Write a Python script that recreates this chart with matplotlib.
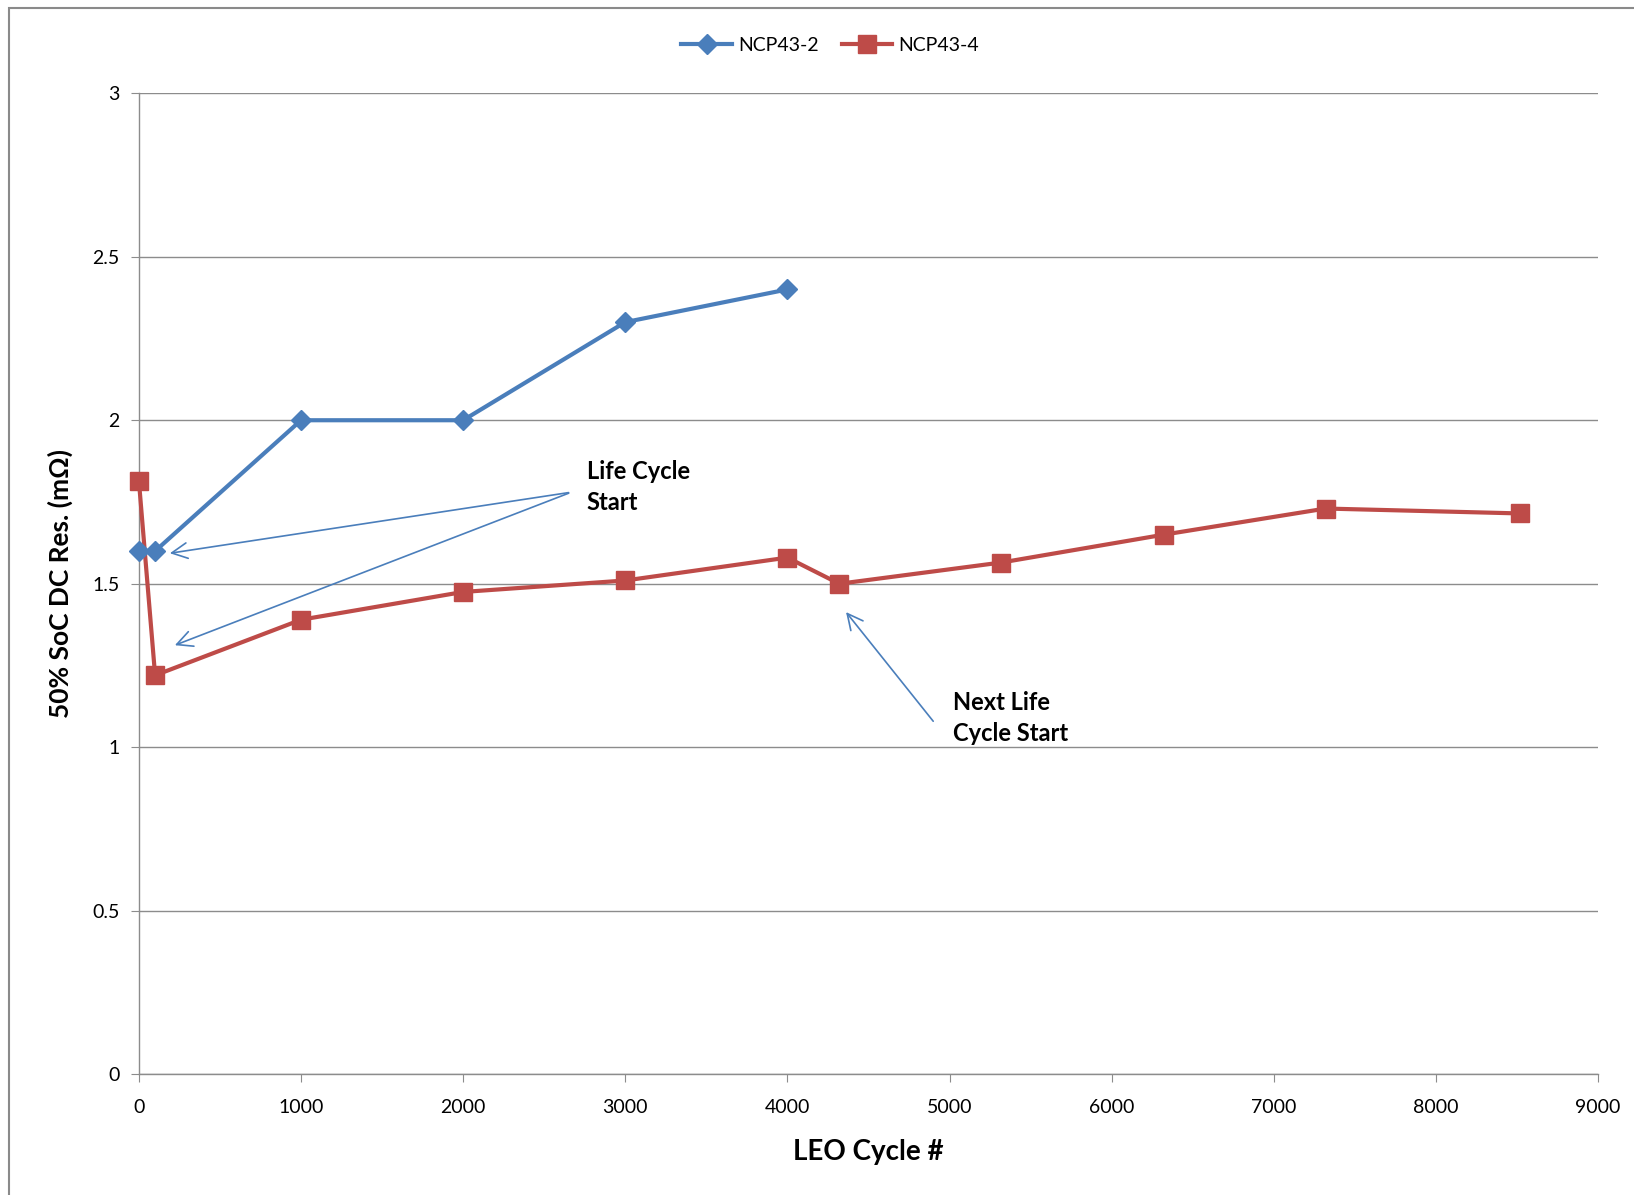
import matplotlib.pyplot as plt
from matplotlib.patches import Rectangle

plt.rcParams['font.family'] = ['Lato', 'DejaVu Sans']

# cycle number vs 50% SoC DC resistance (mOhm)
cycles_2 = [0, 100, 1000, 2000, 3000, 4000]
res_2 = [1.6, 1.6, 2.0, 2.0, 2.3, 2.4]

cycles_4 = [0, 100, 1000, 2000, 3000, 4000, 4320, 5320, 6320, 7320, 8520]
res_4 = [1.815, 1.22, 1.39, 1.475, 1.51, 1.58, 1.5, 1.565, 1.65, 1.73, 1.715]

x_ticks = [0, 1000, 2000, 3000, 4000, 5000, 6000, 7000, 8000, 9000]
y_ticks = [0, 0.5, 1, 1.5, 2, 2.5, 3]
y_tick_labels = ['0', '0.5', '1', '1.5', '2', '2.5', '3']

blue = '#4A7EBB'
red = '#BE4B48'
grid_col = '#8C8C8C'

fig = plt.figure(figsize=(16.34, 11.95), dpi=100)
ax = fig.add_axes([0.085, 0.101, 0.893, 0.821])

# chart area border
fig.patches.append(Rectangle((0.0055, -0.05), 1.2, 1.043, transform=fig.transFigure,
                             fill=False, edgecolor='#8A8A8A', linewidth=1.5))

ax.plot(cycles_2, res_2, color=blue, lw=3, marker='D', ms=10, label='NCP43-2',
        zorder=4, clip_on=False)
ax.plot(cycles_4, res_4, color=red, lw=3, marker='s', ms=13, label='NCP43-4',
        zorder=3, clip_on=False)

ax.set_xlim(0, 9000)
ax.set_ylim(0, 3)
ax.set_xticks(x_ticks)
ax.set_yticks(y_ticks)
ax.set_yticklabels(y_tick_labels)
ax.tick_params(axis='both', labelsize=14, color=grid_col, length=6, direction='out')
ax.tick_params(axis='x', pad=12)
ax.tick_params(axis='y', pad=8)
ax.yaxis.grid(True, color=grid_col, lw=1)
ax.set_axisbelow(True)
for s in ['top', 'right']:
    ax.spines[s].set_visible(False)
for s in ['left', 'bottom']:
    ax.spines[s].set_color(grid_col)
    ax.spines[s].set_linewidth(1)

ax.set_xlabel('LEO Cycle #', fontsize=20, fontweight='bold', labelpad=16)
ax.set_ylabel('50% SoC DC Res. (mΩ)', fontsize=19, fontweight='bold', labelpad=14)

fig.legend(loc='center', bbox_to_anchor=(0.508, 0.962), ncol=2, frameon=False,
           fontsize=14, handlelength=2.6, columnspacing=1.2, handletextpad=0.3)

# annotation arrows
arrow = dict(arrowstyle='->', color=blue, lw=1.2, mutation_scale=28)
ax.annotate('', xy=(174, 1.592), xytext=(2667, 1.78), arrowprops=arrow)
ax.annotate('', xy=(206, 1.309), xytext=(2667, 1.78), arrowprops=arrow)
ax.annotate('', xy=(4351, 1.42), xytext=(4910, 1.073), arrowprops=arrow)

ax.text(2763, 1.796, 'Life Cycle\nStart', fontsize=17, fontweight='bold',
        va='center', ha='left', linespacing=1.4)
ax.text(5020, 1.089, 'Next Life\nCycle Start', fontsize=17, fontweight='bold',
        va='center', ha='left', linespacing=1.4)

fig.savefig('out.png', dpi=100)
